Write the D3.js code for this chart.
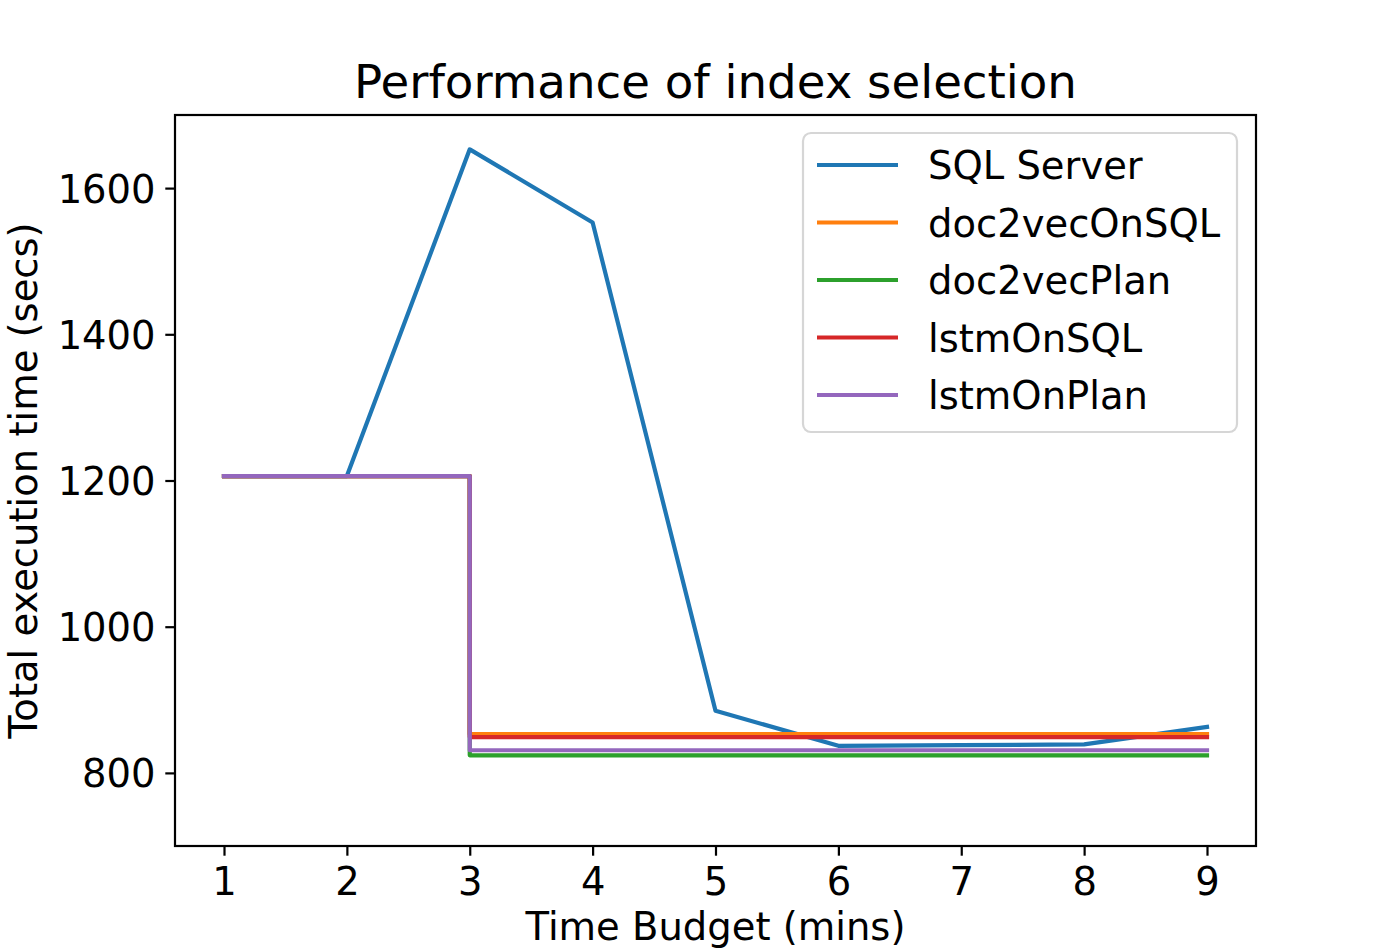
<!DOCTYPE html>
<html>
<head>
<meta charset="utf-8">
<script src="https://cdn.jsdelivr.net/npm/d3@7"></script>
<style>
  html, body { margin: 0; padding: 0; background: #fff; }
  svg { display: block; }
  text { font-family: "DejaVu Sans", sans-serif; fill: #000; }
</style>
</head>
<body>
<svg id="chart" width="1396" height="950"></svg>
<script>
// ---- data ----
const budgets = [1, 2, 3, 4, 5, 6, 7, 8, 9];
const stepBudgets = [1, 2, 3, 3, 4, 5, 6, 7, 8, 9];
const sqlServer = [1206, 1206, 1653, 1553, 885, 837, 838, 839, 863];
const doc2vecOnSQL = [1206, 1206, 1206, 853, 853, 853, 853, 853, 853, 853];
const doc2vecPlan = [1206, 1206, 1206, 824, 824, 824, 824, 824, 824, 824];
const lstmOnSQL = [1206, 1206, 1206, 849, 849, 849, 849, 849, 849, 849];
const lstmOnPlan = [1206, 1206, 1206, 831, 831, 831, 831, 831, 831, 831];
const seriesNames = ["SQL Server", "doc2vecOnSQL", "doc2vecPlan", "lstmOnSQL", "lstmOnPlan"];
const seriesColors = ["#1f77b4", "#ff7f0e", "#2ca02c", "#d62728", "#9467bd"];
const xTicks = [1, 2, 3, 4, 5, 6, 7, 8, 9];
const yTicks = [800, 1000, 1200, 1400, 1600];
const yDomain = [700, 1700];

const series = [
  { name: seriesNames[0], color: seriesColors[0], xs: budgets, ys: sqlServer },
  { name: seriesNames[1], color: seriesColors[1], xs: stepBudgets, ys: doc2vecOnSQL },
  { name: seriesNames[2], color: seriesColors[2], xs: stepBudgets, ys: doc2vecPlan },
  { name: seriesNames[3], color: seriesColors[3], xs: stepBudgets, ys: lstmOnSQL },
  { name: seriesNames[4], color: seriesColors[4], xs: stepBudgets, ys: lstmOnPlan }
];

// ---- layout ----
const L = 175, R = 1256, T = 115, B = 846;
const fs = 38.5;
const svg = d3.select("#chart");

const unit = (1207 - 224) / 8;
const x = d3.scaleLinear()
  .domain([1 - (224 - L) / unit, 9 + (R - 1207) / unit])
  .range([L, R]);
const y = d3.scaleLinear().domain(yDomain).range([B, T]);

// clip
svg.append("defs").append("clipPath").attr("id", "clip")
  .append("rect").attr("x", L).attr("y", T).attr("width", R - L).attr("height", B - T);

// lines
const line = d3.line().x(d => x(d[0])).y(d => y(d[1]));
const g = svg.append("g").attr("clip-path", "url(#clip)");
series.forEach(s => {
  g.append("path")
    .datum(s.xs.map((v, i) => [v, s.ys[i]]))
    .attr("d", line)
    .attr("fill", "none")
    .attr("stroke", s.color)
    .attr("stroke-width", 4.2)
    .attr("stroke-linejoin", "round")
    .attr("stroke-linecap", "square");
});

// axes
const xAxis = d3.axisBottom(x).tickValues(xTicks).tickSize(9.7).tickPadding(9.7).tickFormat(d3.format("d"));
const yAxis = d3.axisLeft(y).tickValues(yTicks).tickSize(9.7).tickPadding(9.7).tickFormat(d3.format("d"));

const gx = svg.append("g").attr("transform", `translate(0,${B})`).call(xAxis);
const gy = svg.append("g").attr("transform", `translate(${L},0)`).call(yAxis);
[gx, gy].forEach(a => {
  a.select(".domain").remove();
  a.selectAll(".tick line").attr("stroke", "#000").attr("stroke-width", 2.2);
  a.selectAll(".tick text").attr("font-size", fs).attr("font-family", "DejaVu Sans").attr("fill", "#000");
});
gx.selectAll(".tick text").attr("dy", null).attr("y", 48.5);
gy.selectAll(".tick text").attr("dy", null).attr("y", 14).attr("x", -19.4);

// frame
svg.append("rect").attr("x", L).attr("y", T).attr("width", R - L).attr("height", B - T)
  .attr("fill", "none").attr("stroke", "#000").attr("stroke-width", 2.2);

// title & labels
svg.append("text").attr("x", (L + R) / 2).attr("y", 98).attr("text-anchor", "middle")
  .attr("font-size", 46.7).text("Performance of index selection");
svg.append("text").attr("x", (L + R) / 2).attr("y", 940).attr("text-anchor", "middle")
  .attr("font-size", fs).text("Time Budget (mins)");
svg.append("text").attr("transform", `translate(37,${(T + B) / 2}) rotate(-90)`)
  .attr("text-anchor", "middle").attr("font-size", fs).text("Total execution time (secs)");

// legend
const lg = svg.append("g");
lg.append("rect").attr("x", 803).attr("y", 133).attr("width", 434).attr("height", 299)
  .attr("rx", 8).attr("ry", 8)
  .attr("fill", "#fff").attr("fill-opacity", 0.8)
  .attr("stroke", "#d6d6d6").attr("stroke-width", 2.2);
series.forEach((s, i) => {
  const yy = 165 + i * 57.5;
  lg.append("line").attr("x1", 817).attr("x2", 898).attr("y1", yy).attr("y2", yy)
    .attr("stroke", s.color).attr("stroke-width", 4.2);
  lg.append("text").attr("x", 928).attr("y", yy + 14).attr("font-size", fs).text(s.name);
});
</script>
</body>
</html>
